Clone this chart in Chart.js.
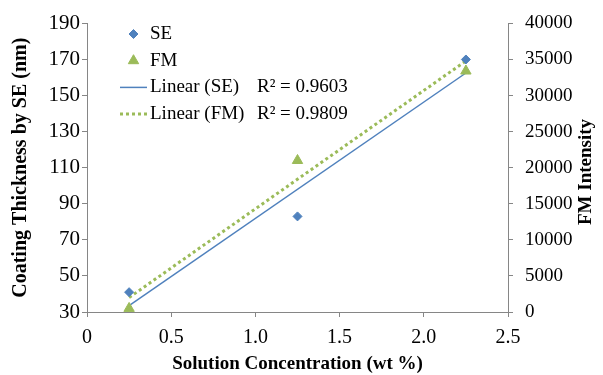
<!DOCTYPE html>
<html>
<head>
<meta charset="utf-8">
<script src="https://cdn.jsdelivr.net/npm/chart.js@4"></script>
<style>
  html, body { margin: 0; padding: 0; background: #fff; }
  #wrap { width: 603px; height: 375px; }
</style>
</head>
<body>
<div id="wrap"><canvas id="chart"></canvas></div>
<script>
// values
const concentration = [0.25, 1.25, 2.25];
const seThickness = [41, 83, 170];
const fmIntensity = [500, 21000, 33400];

// trendline end points (at the first and last concentration)
const trendX = [0.25, 2.25];
const seTrend = [33.5, 162.5];
const fmTrend = [2000, 34800];
const seR2 = 'R\u00B2 = 0.9603';
const fmR2 = 'R\u00B2 = 0.9809';

const xTicks = [0, 0.5, 1, 1.5, 2, 2.5];
const leftTicks = [30, 50, 70, 90, 110, 130, 150, 170, 190];
const rightTicks = [0, 5000, 10000, 15000, 20000, 25000, 30000, 35000, 40000];

const blue = '#4F81BD';
const green = '#9BBB59';
const axisGray = '#868686';
const serif = "'Liberation Serif', 'Times New Roman', serif";

Chart.defaults.font.family = serif;
Chart.defaults.font.size = 19;
Chart.defaults.color = '#000';

const toPoints = (xs, ys) => xs.map((x, i) => ({ x: x, y: ys[i] }));

// legend drawn inside the plot, Excel style
const insideLegend = {
  id: 'insideLegend',
  afterDatasetsDraw(chart, args, opts) {
    const ctx = chart.ctx;
    ctx.save();
    ctx.font = opts.font;
    ctx.textBaseline = 'middle';
    chart.data.datasets.forEach((ds, i) => {
      const y = opts.top + i * opts.rowHeight;
      if (ds.showLine) {
        ctx.strokeStyle = ds.borderColor;
        ctx.lineWidth = ds.borderWidth;
        ctx.setLineDash(ds.borderDash || []);
        ctx.beginPath();
        ctx.moveTo(opts.symbolLeft, y);
        ctx.lineTo(opts.symbolRight, y);
        ctx.stroke();
        ctx.setLineDash([]);
      } else {
        ctx.fillStyle = ds.backgroundColor;
        ctx.strokeStyle = ds.borderColor;
        Chart.helpers.drawPoint(ctx, {
          pointStyle: ds.pointStyle,
          radius: ds.pointRadius,
          borderWidth: 1,
          rotation: 0
        }, (opts.symbolLeft + opts.symbolRight) / 2, y);
      }
      ctx.fillStyle = '#000';
      ctx.fillText(ds.label, opts.textLeft, y);
      if (ds.fitLabel) ctx.fillText(ds.fitLabel, opts.fitLeft, y);
    });
    ctx.restore();
  }
};

// right axis title reads bottom-to-top like the left one
const rightTitle = {
  id: 'rightTitle',
  afterDraw(chart, args, opts) {
    const ctx = chart.ctx;
    ctx.save();
    ctx.translate(opts.x, opts.y);
    ctx.rotate(-Math.PI / 2);
    ctx.font = opts.font;
    ctx.fillStyle = '#000';
    ctx.textAlign = 'center';
    ctx.textBaseline = 'middle';
    ctx.fillText(opts.text, 0, 0);
    ctx.restore();
  }
};

const ctx = document.getElementById('chart').getContext('2d');

new Chart(ctx, {
  type: 'scatter',
  data: {
    datasets: [
      {
        label: 'SE',
        data: toPoints(concentration, seThickness),
        yAxisID: 'y',
        pointStyle: 'rectRot',
        pointRadius: 4.5,
        backgroundColor: blue,
        borderColor: blue,
        borderWidth: 1
      },
      {
        label: 'FM',
        data: toPoints(concentration, fmIntensity),
        yAxisID: 'y1',
        pointStyle: 'triangle',
        pointRadius: 6,
        backgroundColor: green,
        borderColor: green,
        borderWidth: 1
      },
      {
        label: 'Linear (SE)',
        fitLabel: seR2,
        data: toPoints(trendX, seTrend),
        yAxisID: 'y',
        showLine: true,
        pointRadius: 0,
        borderColor: blue,
        borderWidth: 1.5
      },
      {
        label: 'Linear (FM)',
        fitLabel: fmR2,
        data: toPoints(trendX, fmTrend),
        yAxisID: 'y1',
        showLine: true,
        pointRadius: 0,
        borderColor: green,
        borderWidth: 3,
        borderDash: [3, 3]
      }
    ]
  },
  options: {
    responsive: true,
    maintainAspectRatio: false,
    animation: false,
    layout: { padding: { top: 20, left: 0, right: 0, bottom: 0 } },
    scales: {
      x: {
        type: 'linear',
        min: xTicks[0],
        max: xTicks[xTicks.length - 1],
        ticks: { stepSize: xTicks[1] - xTicks[0], padding: 9, font: { size: 20 } },
        grid: { drawOnChartArea: false, tickLength: 5, color: axisGray },
        border: { color: axisGray },
        title: {
          display: true,
          text: 'Solution Concentration (wt %)',
          font: { size: 19, weight: 'bold' },
          padding: { top: 0, bottom: 0 }
        },
        afterFit: (scale) => { scale.height = 63; }
      },
      y: {
        type: 'linear',
        position: 'left',
        min: leftTicks[0],
        max: leftTicks[leftTicks.length - 1],
        ticks: { stepSize: leftTicks[1] - leftTicks[0], padding: 2, font: { size: 21 } },
        grid: { drawOnChartArea: false, tickLength: 5, color: axisGray },
        border: { color: axisGray },
        title: {
          display: true,
          text: 'Coating Thickness by SE (nm)',
          font: { size: 20, weight: 'bold' },
          padding: { top: 9, bottom: 0 }
        },
        afterFit: (scale) => { scale.width = 87; }
      },
      y1: {
        type: 'linear',
        position: 'right',
        min: rightTicks[0],
        max: rightTicks[rightTicks.length - 1],
        ticks: {
          stepSize: rightTicks[1] - rightTicks[0],
          padding: 12,
          callback: (v) => String(v)
        },
        grid: { drawOnChartArea: false, tickLength: 5, color: axisGray },
        border: { color: axisGray },
        afterFit: (scale) => { scale.width = 95; }
      }
    },
    plugins: {
      legend: { display: false },
      tooltip: { enabled: false },
      insideLegend: {
        font: '19px ' + serif,
        top: 34,
        rowHeight: 26.7,
        symbolLeft: 120,
        symbolRight: 147,
        textLeft: 150,
        fitLeft: 257
      },
      rightTitle: {
        text: 'FM Intensity',
        font: 'bold 19px ' + serif,
        x: 586,
        y: 172
      }
    }
  },
  plugins: [insideLegend, rightTitle]
});
</script>
</body>
</html>
